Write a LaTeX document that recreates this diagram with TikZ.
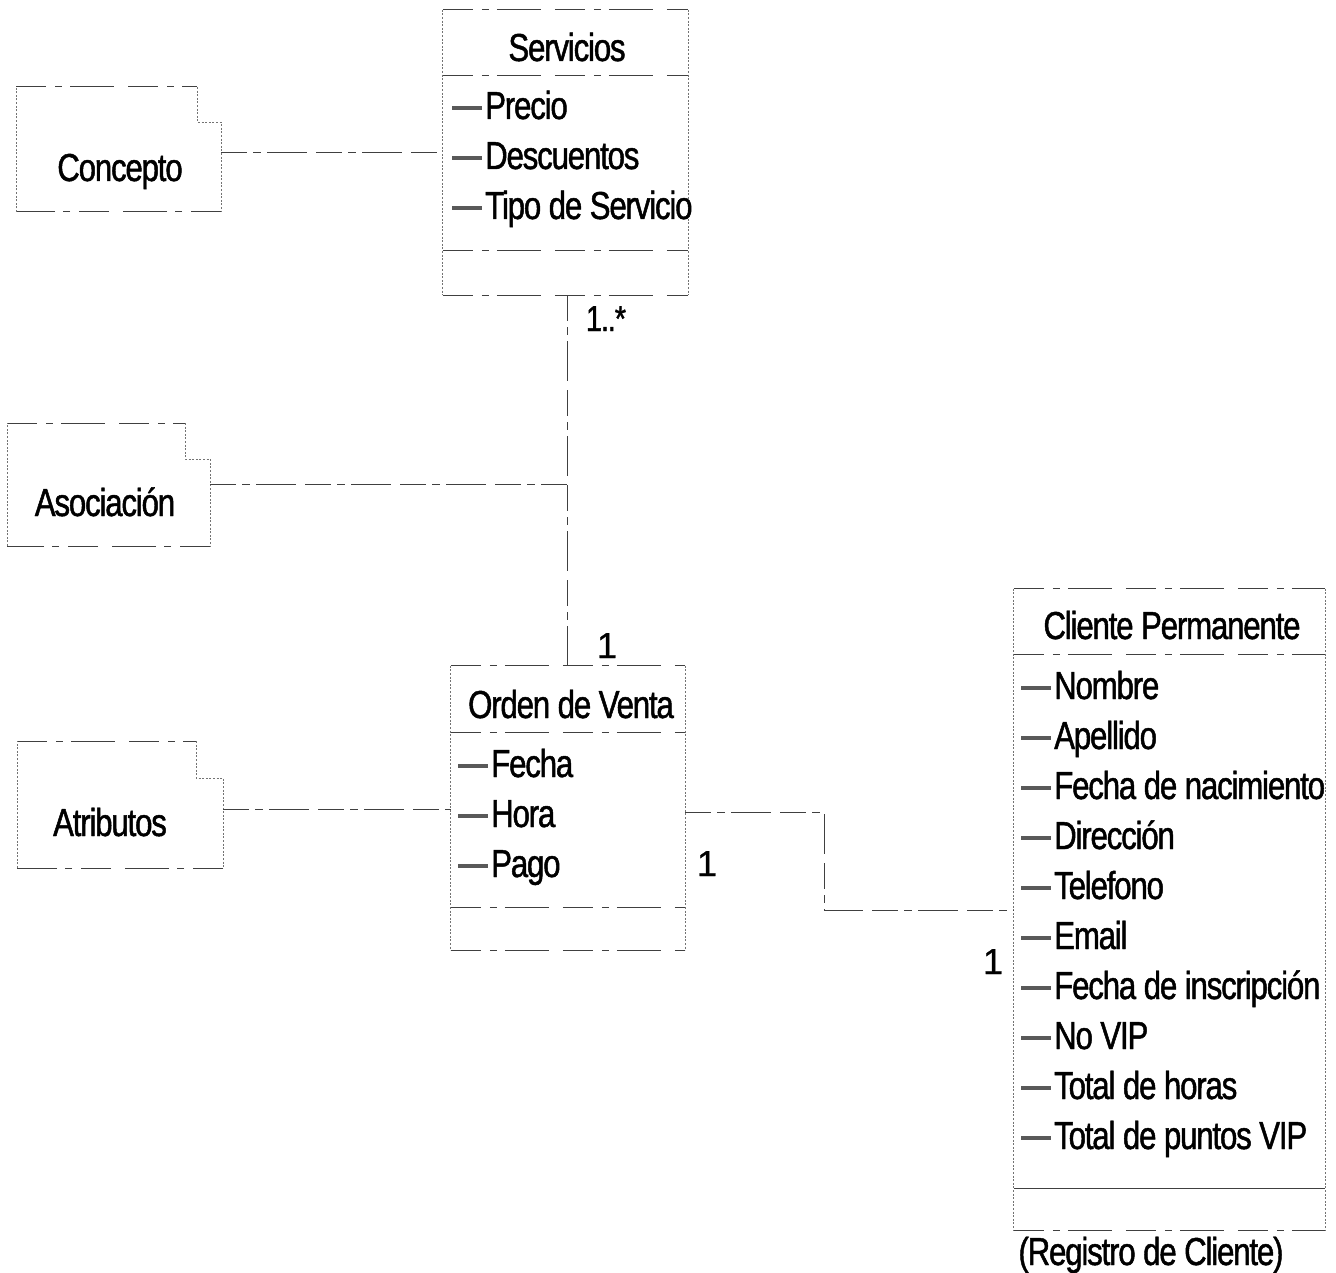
\documentclass[tikz,border=0pt]{standalone}
\usepackage{fontspec}
\setmainfont{Liberation Sans}[FakeStretch=0.8, LetterSpace=-3, FakeBold=1.2]
\newfontfamily\numfont{Liberation Sans}[FakeBold=0.6]

% outline of a class box, drawn side by side from the node anchors
\newcommand\drawumlbox[1]{%
  \draw[hline] (#1.north west) -- (#1.north east);
  \draw[hline] (#1.south west) -- (#1.south east);
  \draw[vline] (#1.north west) -- (#1.south west);
  \draw[vline] (#1.north east) -- (#1.south east);}

\begin{document}
\begin{tikzpicture}[x=1pt,y=-1pt,
  hline/.style={draw=black!75, line width=1pt,
    dash pattern=on 30pt off 9pt on 7pt off 8pt on 44pt off 14pt},
  vline/.style={draw=black!55, line width=0.8pt, dash pattern=on 2pt off 1.6pt},
  conn/.style={draw=black!75, line width=1pt,
    dash pattern=on 26pt off 6pt on 8pt off 6pt on 40pt off 9pt},
  frame/.style={draw=none, inner sep=0pt, rectangle},
  lbl/.style={inner sep=0pt, anchor=base, font=\fontsize{39}{42}\selectfont},
  attr/.style={inner sep=0pt, anchor=base west, font=\fontsize{39}{42}\selectfont},
  mult/.style={inner sep=0pt, anchor=base, font=\numfont\fontsize{36}{38}\selectfont},
]
\newcommand\mk{{\color{black!65}\rule[9pt]{30pt}{4pt}}\hspace{3pt}}
\useasboundingbox (0,0) rectangle (1336,1273);

% ---- class boxes ----
\node[frame, minimum width=245pt, minimum height=285pt] (servicios) at (565.5,152.5) {};
\node[frame, minimum width=234pt, minimum height=284pt] (orden) at (568,808) {};
\node[frame, minimum width=311pt, minimum height=641pt] (cliente) at (1169.5,909.5) {};
\drawumlbox{servicios}
\drawumlbox{orden}
\drawumlbox{cliente}

% compartment separators
\draw[hline] (servicios.west |- 0,76) -- (servicios.east |- 0,76);
\draw[hline] (servicios.west |- 0,251) -- (servicios.east |- 0,251);
\draw[hline] (orden.west |- 0,732) -- (orden.east |- 0,732);
\draw[hline] (orden.west |- 0,907) -- (orden.east |- 0,907);
\draw[hline] (cliente.west |- 0,654) -- (cliente.east |- 0,654);
\draw[black!75, line width=1pt] (cliente.west |- 0,1188) -- (cliente.east |- 0,1188);

% ---- note boxes (stepped outline) ----
\node[frame, minimum width=205pt, minimum height=125pt] (cbox) at (118.5,149.5) {};
\node[frame, minimum width=203pt, minimum height=123pt] (abox) at (108.5,484.5) {};
\node[frame, minimum width=206pt, minimum height=127pt] (atbox) at (120,804.5) {};
\draw[hline] (16,87) -- (197,87);
\draw[vline] (197,87) -- (197,122) -- (221,122) -- (221,212);
\draw[hline] (221,212) -- (16,212);
\draw[vline] (16,212) -- (16,87);
\draw[hline] (7,423) -- (185,423);
\draw[vline] (185,423) -- (185,459) -- (210,459) -- (210,546);
\draw[hline] (210,546) -- (7,546);
\draw[vline] (7,546) -- (7,423);
\draw[hline] (17,741) -- (196,741);
\draw[vline] (196,741) -- (196,778) -- (223,778) -- (223,868);
\draw[hline] (223,868) -- (17,868);
\draw[vline] (17,868) -- (17,741);

% ---- texts ----
\node[lbl] (tserv) at (567,61) {Servicios};
\node[attr] (a1) at (452,119) {\mk Precio};
\node[attr] (a2) at (452,169) {\mk Descuentos};
\node[attr] (a3) at (452,219) {\mk Tipo de Servicio};

\node[lbl] (tord) at (571,718) {Orden de Venta};
\node[attr] (o1) at (458,777) {\mk Fecha};
\node[attr] (o2) at (458,827) {\mk Hora};
\node[attr] (o3) at (458,877) {\mk Pago};

\node[lbl] (tcli) at (1172,639) {Cliente Permanente};
\node[attr] (c1) at (1021,699) {\mk Nombre};
\node[attr] (c2) at (1021,749) {\mk Apellido};
\node[attr] (c3) at (1021,799) {\mk Fecha de nacimiento};
\node[attr] (c4) at (1021,849) {\mk Dirección};
\node[attr] (c5) at (1021,899) {\mk Telefono};
\node[attr] (c6) at (1021,949) {\mk Email};
\node[attr] (c7) at (1021,999) {\mk Fecha de inscripción};
\node[attr] (c8) at (1021,1049) {\mk No VIP};
\node[attr] (c9) at (1021,1099) {\mk Total de horas};
\node[attr] (c10) at (1021,1149) {\mk Total de puntos VIP};
\node[lbl] (reg) at (1151,1265) {(Registro de Cliente)};

\node[lbl] (tcon) at (120,181) {Concepto};
\node[lbl] (tasoc) at (105,516) {Asociación};
\node[lbl] (tatr) at (110,836) {Atributos};

\node[lbl, font=\fontsize{36}{38}\selectfont] (m1) at (606,331) {1..*};
\node[mult] (m2) at (607,658) {1};
\node[mult] (m3) at (707,876) {1};
\node[mult] (m4) at (993,974) {1};

% ---- connectors ----
\coordinate (asoc) at (567,484);
\coordinate (k1) at (824,812);
\coordinate (k2) at (824,910);
\draw[conn] (servicios.south -| asoc) -- (orden.north -| asoc);
\draw[conn] (abox.east |- asoc) -- (asoc);
\draw[conn] ([yshift=-3.5pt]cbox.east) -- ([yshift=-3.5pt]cbox.east -| servicios.west);
\draw[conn] ([yshift=-4.5pt]atbox.east) -- ([yshift=-4.5pt]atbox.east -| orden.west);
\draw[conn] (orden.east |- k1) -- (k1) -- (k2) -- (cliente.west |- k2);
\end{tikzpicture}
\end{document}
